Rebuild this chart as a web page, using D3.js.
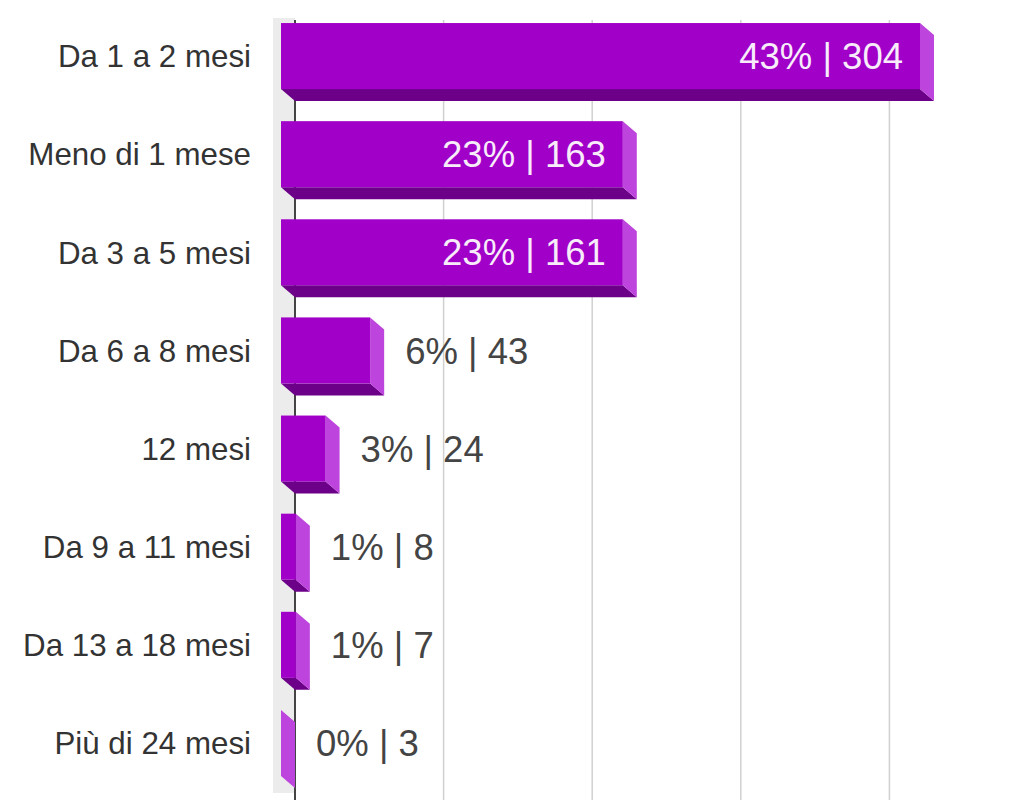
<!DOCTYPE html>
<html>
<head>
<meta charset="utf-8">
<script src="https://cdn.jsdelivr.net/npm/d3@7"></script>
<style>
  html, body { margin: 0; padding: 0; background: #ffffff; }
  svg { display: block; font-family: "Liberation Sans", Arial, Helvetica, sans-serif; }
</style>
</head>
<body>
<svg id="chart" width="1018" height="800"></svg>
<script>
const categories = ["Da 1 a 2 mesi", "Meno di 1 mese", "Da 3 a 5 mesi", "Da 6 a 8 mesi", "12 mesi", "Da 9 a 11 mesi", "Da 13 a 18 mesi", "Più di 24 mesi"];
const counts = [304, 163, 161, 43, 24, 8, 7, 3];
const percents = [43, 23, 23, 6, 3, 1, 1, 0];
const gridTicks = [10, 20, 30, 40];

const data = categories.map((c, i) => ({ cat: c, count: counts[i], pct: percents[i] }));

const svg = d3.select("#chart");
const W = 1018, H = 800;
const DX = 14, DY = 12; // 3D depth

const x = d3.scaleLinear().domain([0, 48]).range([295, 1008.3]);
const y = d3.scaleBand().domain(categories).range([7, 792]).paddingInner(0.327).paddingOuter(0.1635);

// back wall (left side)
svg.append("rect").attr("x", 273).attr("y", 18).attr("width", x(0) - 273).attr("height", 775).attr("fill", "#ececec");

// gridlines
svg.selectAll("line.grid").data(gridTicks).enter().append("line")
  .attr("class", "grid")
  .attr("x1", d => x(d)).attr("x2", d => x(d))
  .attr("y1", 20).attr("y2", H)
  .attr("stroke", "#d0d0d0").attr("stroke-width", 1.5);

// axis line
svg.append("line").attr("x1", x(0)).attr("x2", x(0)).attr("y1", 20).attr("y2", H)
  .attr("stroke", "#444").attr("stroke-width", 2);

// bars
const g = svg.selectAll("g.bar").data(data).enter().append("g").attr("class", "bar");
g.each(function(d) {
  const el = d3.select(this);
  const fx0 = x(0) - DX, fx1 = x(d.pct) - DX;
  const fy0 = y(d.cat), fy1 = y(d.cat) + y.bandwidth();
  // bottom face
  el.append("polygon")
    .attr("points", [[fx0, fy1], [fx1, fy1], [fx1 + DX, fy1 + DY], [fx0 + DX, fy1 + DY]].map(p => p.join(",")).join(" "))
    .attr("fill", "#6c0088");
  // right face
  el.append("polygon")
    .attr("points", [[fx1, fy0], [fx1 + DX, fy0 + DY], [fx1 + DX, fy1 + DY], [fx1, fy1]].map(p => p.join(",")).join(" "))
    .attr("fill", "#bd44dc");
  // front face
  el.append("rect").attr("x", fx0).attr("y", fy0).attr("width", Math.max(0, fx1 - fx0)).attr("height", fy1 - fy0)
    .attr("fill", "#a100c8");
});

// value labels
const mid = d => y(d.cat) + y.bandwidth() / 2;
const inside = d => d.pct >= 10;
svg.selectAll("text.val").data(data).enter().append("text")
  .attr("class", "val")
  .attr("x", d => inside(d) ? x(d.pct) - DX - 17 : x(d.pct) + 21)
  .attr("y", d => mid(d))
  .attr("dy", "0.36em")
  .attr("text-anchor", d => inside(d) ? "end" : "start")
  .attr("font-size", 36.5)
  .attr("fill", d => inside(d) ? "#f8ecfb" : "#444")
  .text(d => `${d.pct}% | ${d.count}`);

// category labels
svg.selectAll("text.cat").data(data).enter().append("text")
  .attr("class", "cat")
  .attr("x", 251)
  .attr("y", d => mid(d))
  .attr("dy", "0.36em")
  .attr("text-anchor", "end")
  .attr("font-size", 31.3)
  .attr("fill", "#333")
  .text(d => d.cat);
</script>
</body>
</html>
